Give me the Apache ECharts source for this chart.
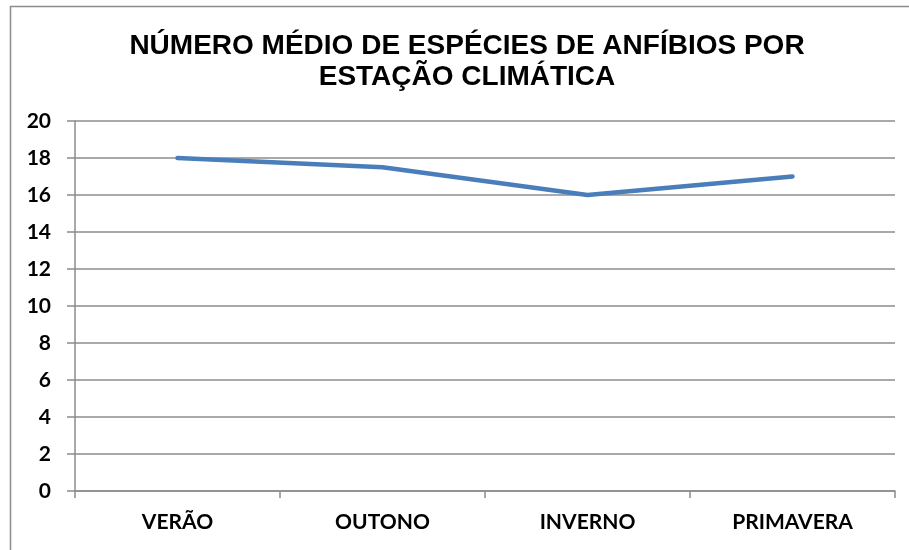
<!DOCTYPE html>
<html>
<head>
<meta charset="utf-8">
<script src="https://cdn.jsdelivr.net/npm/echarts@6/dist/echarts.min.js"></script>
<style>
    html,body{margin:0;padding:0;background:#fff;}
    #chart{width:909px;height:550px;}
</style>
</head>
<body>
<div id="chart"></div>
<script>
    // 数据
    var categories = ['VERÃO', 'OUTONO', 'INVERNO', 'PRIMAVERA'];
    var mediaEspecies = [18, 17.5, 16, 17];
    var yMin = 0, yMax = 20, yStep = 2;

    var myChart = echarts.init(document.getElementById('chart'));
    var option = {
        animation: false,
        backgroundColor: '#fff',
        title: {
            text: 'NÚMERO MÉDIO DE ESPÉCIES DE ANFÍBIOS POR\nESTAÇÃO CLIMÁTICA',
            left: 462,
            top: 26,
            textAlign: 'center',
            textStyle: {
                fontFamily: 'Liberation Sans',
                fontWeight: 'bold',
                fontSize: 28,
                lineHeight: 31,
                color: '#000'
            }
        },
        graphic: [{
            type: 'rect',
            shape: {x: 10.5, y: 6.5, width: 1000, height: 1000},
            style: {fill: 'none', stroke: '#8c8c8c', lineWidth: 1.5},
            silent: true
        }],
        grid: {
            left: 75,
            right: 14,
            top: 121,
            bottom: 59
        },
        xAxis: {
            type: 'category',
            data: categories,
            boundaryGap: true,
            axisLine: {lineStyle: {color: '#8c8c8c', width: 1.5}},
            axisTick: {show: true, length: 7, lineStyle: {color: '#8c8c8c', width: 1.5}},
            axisLabel: {
                margin: 21,
                fontFamily: 'Lato',
                fontWeight: 'bold',
                fontSize: 21,
                color: '#000'
            }
        },
        yAxis: {
            type: 'value',
            min: yMin,
            max: yMax,
            interval: yStep,
            axisLine: {show: true, lineStyle: {color: '#8c8c8c', width: 1.5}},
            axisTick: {show: true, length: 8, lineStyle: {color: '#8c8c8c', width: 1.5}},
            splitLine: {show: true, lineStyle: {color: '#8c8c8c', width: 1.5}},
            axisLabel: {
                margin: 24,
                fontFamily: 'Lato',
                fontWeight: 'bold',
                fontSize: 21,
                color: '#000'
            }
        },
        series: [{
            name: 'Média',
            type: 'line',
            data: mediaEspecies,
            symbol: 'none',
            lineStyle: {color: '#4a7ebb', width: 4.5, cap: 'round'},
            itemStyle: {color: '#4a7ebb'}
        }]
    };
    myChart.setOption(option);
</script>
</body>
</html>
